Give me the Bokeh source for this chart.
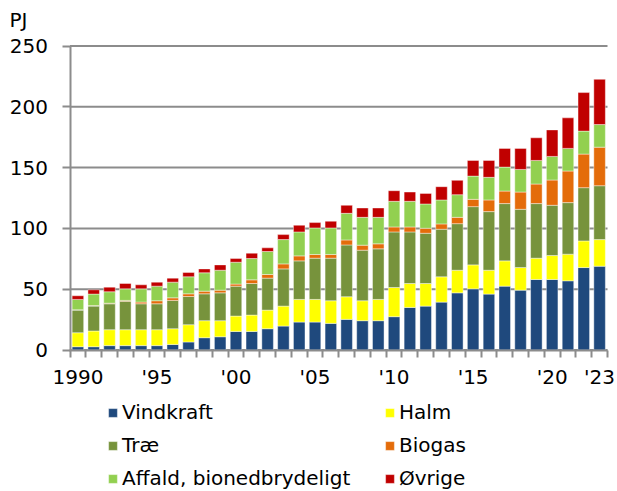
from bokeh.plotting import figure
from bokeh.models import ColumnDataSource, FixedTicker, Range1d, Legend, LegendItem, Label
from bokeh.embed import file_html
from bokeh.resources import INLINE

years = list(range(1990, 2024))
vindkraft = [2.7, 2.7, 3.6, 3.6, 3.6, 3.6, 4.6, 6.6, 10.1, 10.9, 15.3, 15.3, 17.5, 19.7, 23.0, 23.0, 21.9,
             25.2, 24.1, 24.1, 27.4, 35.0, 36.1, 39.4, 47.0, 50.3, 46.0, 52.5, 49.2, 58.0, 58.0, 56.9, 67.8, 68.9]
halm = [11.5, 12.9, 13.1, 13.1, 13.1, 13.1, 12.9, 14.2, 14.0, 13.2, 12.6, 13.4, 15.3, 16.4, 18.6, 18.6, 18.6,
        18.6, 16.4, 17.5, 24.0, 19.7, 18.6, 20.8, 18.6, 19.7, 19.6, 20.8, 18.6, 17.5, 19.7, 21.9, 21.9, 21.9]
trae = [18.6, 20.5, 21.3, 23.3, 21.3, 21.3, 23.3, 23.2, 22.1, 22.9, 24.6, 26.0, 26.3, 30.6, 31.7, 33.9, 35.0,
        42.6, 41.6, 41.6, 45.7, 42.4, 41.3, 39.1, 38.3, 47.9, 48.2, 47.1, 47.9, 44.9, 41.3, 42.4, 43.8, 44.3]
biogas = [0.3, 0.4, 0.5, 0.8, 1.4, 2.5, 2.1, 2.2, 2.2, 2.2, 1.7, 3.0, 3.0, 4.1, 4.1, 3.0, 3.0,
          4.1, 4.1, 4.1, 4.1, 4.1, 4.1, 4.4, 5.2, 6.0, 9.6, 10.3, 14.2, 16.1, 20.8, 26.0, 27.6, 31.7]
affald = [8.5, 9.5, 9.4, 9.5, 10.9, 12.0, 12.9, 14.0, 15.1, 16.4, 18.0, 17.5, 18.9, 20.0, 19.7, 21.9, 21.9,
          21.9, 22.9, 21.8, 21.1, 21.1, 20.0, 19.7, 18.6, 19.1, 18.6, 19.7, 18.6, 19.4, 19.4, 18.6, 18.9, 18.6]
ovrige = [3.0, 3.5, 3.8, 4.4, 3.3, 3.3, 3.3, 3.5, 3.2, 4.4, 3.0, 4.4, 3.0, 4.1, 5.5, 4.4, 5.5,
          6.6, 7.7, 7.7, 8.7, 7.6, 8.7, 10.9, 11.8, 12.9, 13.9, 15.4, 17.3, 18.6, 21.8, 25.1, 31.7, 37.2]

series_keys = ["vindkraft", "halm", "trae", "biogas", "affald", "ovrige"]
series_labels = ["Vindkraft", "Halm", "Træ", "Biogas", "Affald, bionedbrydeligt", "Øvrige"]
series_colors = ["#1F497D", "#FFFF00", "#77933C", "#E46C0A", "#92D050", "#C00000"]

tick_years = [1990, 1995, 2000, 2005, 2010, 2015, 2020, 2023]
tick_labels = ["1990", "'95", "'00", "'05", "'10", "'15", "'20", "'23"]
y_ticks = [0, 50, 100, 150, 200, 250]
y_max = 250

FONT = "DejaVu Sans"
GREY = "#8c8c8c"

# canvas / layout geometry (pixels)
W, H = 617, 491
frame_left, frame_right = 69.5, 607
frame_top, frame_bottom = 45.5, 349.5

x_lo, x_hi = years[0] - 0.5, years[-1] + 0.5
ppx = (frame_right - frame_left) / (x_hi - x_lo)
ppy = (frame_bottom - frame_top) / y_max
xr = Range1d(x_lo - frame_left / ppx, x_hi + (W - frame_right) / ppx)
yr = Range1d(0 - (H - frame_bottom) / ppy, y_max + frame_top / ppy)

source = ColumnDataSource(dict(year=years, vindkraft=vindkraft, halm=halm, trae=trae,
                               biogas=biogas, affald=affald, ovrige=ovrige))

p = figure(width=W, height=H, output_backend="svg", toolbar_location=None,
           x_range=xr, y_range=yr, min_border=0,
           min_border_left=0, min_border_right=0, min_border_top=0, min_border_bottom=0)
p.outline_line_color = None
p.background_fill_color = "white"
p.border_fill_color = "white"
p.xgrid.visible = False
p.ygrid.visible = False

# horizontal grid lines across the bar area
p.segment(x0=[x_lo] * len(y_ticks), x1=[x_hi] * len(y_ticks), y0=y_ticks, y1=y_ticks,
          line_color=GREY, line_width=2)

renderers = p.vbar_stack(series_keys, x="year", width=0.73, source=source, color=series_colors,
                         line_color="white", line_width=0.7, line_alpha=0.6)

ya = p.yaxis[0]
ya.fixed_location = x_lo
ya.bounds = (0, y_max)
ya.ticker = FixedTicker(ticks=y_ticks)
ya.axis_line_color = GREY
ya.axis_line_width = 2
ya.major_tick_line_color = GREY
ya.major_tick_line_width = 2
ya.major_tick_out = 8
ya.major_tick_in = 0
ya.minor_tick_out = 0
ya.minor_tick_in = 0
ya.major_label_text_font = FONT
ya.major_label_text_font_size = "20px"
ya.major_label_text_color = "black"
ya.major_label_standoff = 14

xa = p.xaxis[0]
xa.fixed_location = 0
xa.bounds = (x_lo - 0.02, x_hi + 0.02)
xa.ticker = FixedTicker(ticks=tick_years, minor_ticks=[y - 0.5 for y in years] + [x_hi])
xa.major_label_overrides = {y: l for y, l in zip(tick_years, tick_labels)}
xa.axis_line_color = GREY
xa.axis_line_width = 2
xa.major_tick_out = 0
xa.major_tick_in = 0
xa.major_tick_line_color = None
xa.minor_tick_out = 7
xa.minor_tick_in = 0
xa.minor_tick_line_color = GREY
xa.minor_tick_line_width = 2
xa.major_label_text_font = FONT
xa.major_label_text_font_size = "20px"
xa.major_label_text_color = "black"
xa.major_label_standoff = 8

p.add_layout(Label(x=9, y=H - 19, x_units="screen", y_units="screen", text="PJ",
                   text_font=FONT, text_font_size="20px", text_baseline="middle",
                   text_color="black"))

col_orders = [[0, 2, 4], [1, 3, 5]]
col_x = [107, 384]
for order, lx in zip(col_orders, col_x):
    items = [LegendItem(label=series_labels[i], renderers=[renderers[i]]) for i in order]
    leg = Legend(items=items, location=(lx, 1), orientation="vertical",
                 label_text_font=FONT, label_text_font_size="20px", label_text_color="black",
                 glyph_width=11, glyph_height=11, label_standoff=4, label_height=20,
                 spacing=9, padding=0, margin=0, border_line_color=None,
                 background_fill_alpha=0)
    p.add_layout(leg, "center")

open("out.html", "w").write(file_html(p, INLINE))
